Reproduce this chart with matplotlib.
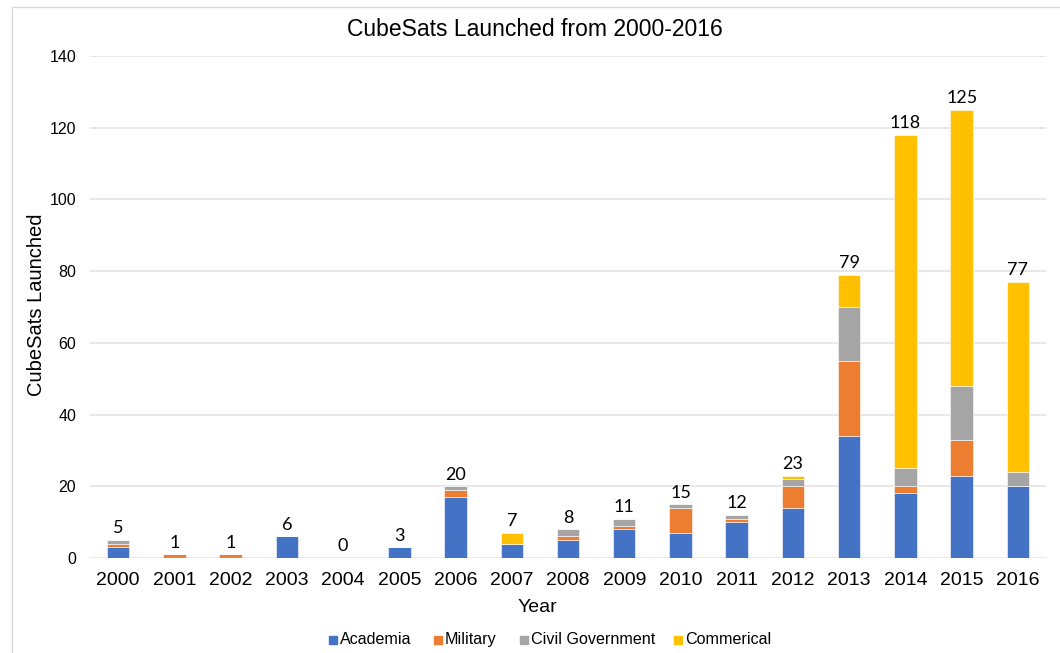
import numpy as np
import matplotlib
matplotlib.use('Agg')
import matplotlib.pyplot as plt
from matplotlib.lines import Line2D
from matplotlib.patches import Rectangle

# Data
years = ['2000', '2001', '2002', '2003', '2004', '2005', '2006', '2007', '2008',
         '2009', '2010', '2011', '2012', '2013', '2014', '2015', '2016']
academia = [3, 0, 0, 6, 0, 3, 17, 4, 5, 8, 7, 10, 14, 34, 18, 23, 20]
military = [1, 1, 1, 0, 0, 0, 2, 0, 1, 1, 7, 1, 6, 21, 2, 10, 0]
civil_gov = [1, 0, 0, 0, 0, 0, 1, 0, 2, 2, 1, 1, 2, 15, 5, 15, 4]
commercial = [0, 0, 0, 0, 0, 0, 0, 3, 0, 0, 0, 0, 1, 9, 93, 77, 53]

series_names = ['Academia', 'Military', 'Civil Government', 'Commerical']
colors = ['#4472C4', '#ED7D31', '#A5A5A5', '#FFC000']

plt.rcParams['font.family'] = ['Liberation Sans', 'DejaVu Sans']

W, H = 1060, 653
fig = plt.figure(figsize=(W / 100, H / 100), dpi=100)
ax = fig.add_axes([90 / W, 1 - 558 / H, (1046 - 90) / W, (558 - 56) / H])

x = np.arange(len(years))
bottom = np.zeros(len(years))
for vals, name, col in zip([academia, military, civil_gov, commercial], series_names, colors):
    ax.bar(x, vals, width=0.4, bottom=bottom, color=col, label=name,
           edgecolor='white', linewidth=0.4, zorder=3)
    bottom += np.array(vals)

# totals above bars
for xi, tot in zip(x, bottom):
    ax.text(xi, tot + 1.0, str(int(tot)), ha='center', va='bottom',
            fontsize=13, family=['Lato', 'DejaVu Sans'], color='#000000')

ax.set_xlim(-0.5, len(years) - 0.5)
ax.set_ylim(0, 140)
ax.set_yticks(range(0, 141, 20))
ax.set_xticks(x)
ax.set_xticklabels(years, fontsize=14)
ax.tick_params(axis='y', labelsize=11.5, length=0, pad=10)
ax.tick_params(axis='x', length=0, pad=10)
ax.grid(axis='y', color='#E4E4E4', linewidth=1.2, zorder=0)
for s in ax.spines.values():
    s.set_visible(False)

# titles centred on the whole chart, as in the original
fig.text(535 / W, 1 - 30 / H, 'CubeSats Launched from 2000-2016', fontsize=16.5,
         ha='center', va='center')
fig.text(537 / W, 1 - 608 / H, 'Year', fontsize=14, ha='center', va='center')
fig.text(37 / W, 1 - 305 / H, 'CubeSats Launched', fontsize=14.5, rotation=90,
         ha='center', va='center')

# legend drawn by hand so all labels share one baseline
legend_x = [329, 434, 520, 674]
base_y = 1 - 644 / H
for lx, name, col in zip(legend_x, series_names, colors):
    fig.add_artist(Rectangle((lx / W, base_y), 8 / W, 8 / H, color=col,
                             transform=fig.transFigure))
    fig.text((lx + 11) / W, base_y, name, fontsize=11.6, ha='left', va='baseline')

# light border around the chart area (left and top)
fig.add_artist(Line2D([12 / W, 12 / W], [0, 1 - 7 / H], color='#D9D9D9', linewidth=1))
fig.add_artist(Line2D([12 / W, 1], [1 - 7 / H, 1 - 7 / H], color='#D9D9D9', linewidth=1))

fig.savefig('out.png', dpi=100)
